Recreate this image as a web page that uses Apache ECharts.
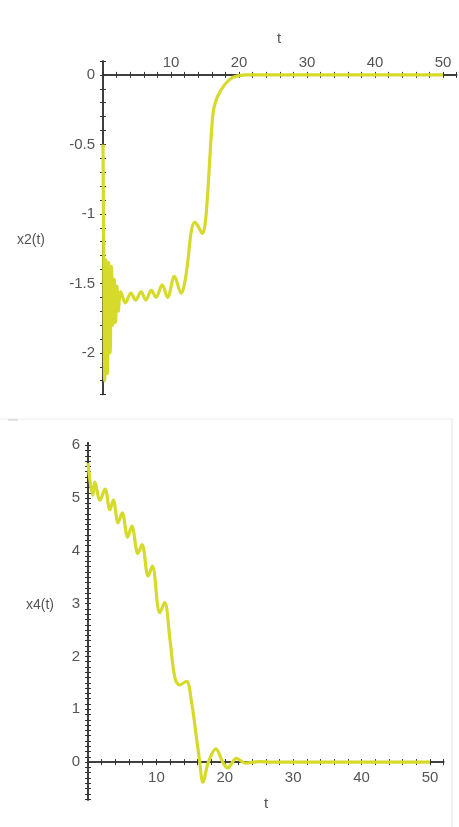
<!DOCTYPE html>
<html>
<head>
<meta charset="utf-8">
<script src="https://cdn.jsdelivr.net/npm/echarts@6/dist/echarts.min.js"></script>
<style>
html,body{margin:0;padding:0;background:#fff;}
#c{width:459px;height:827px;}
</style>
</head>
<body>
<div id="c"></div>
<script>
// ---- data ----
var t2 = [0,0.1,0.25,0.45,0.65,0.85,1.05,1.25,1.45,1.65,1.85,2.05,2.25,2.6,3.3,4.1,4.8,5.6,6.3,7.1,7.8,8.7,9.5,10.5,11.5,12.0,12.5,13.0,13.5,14.0,14.6,15.0,15.4,15.7,16.0,16.3,16.9,17.9,19.0,20.0,21.0,30,40,50];
var x2 = [-0.5,-1.2,-2.2,-1.33,-2.15,-1.35,-2.0,-1.38,-1.8,-1.47,-1.78,-1.52,-1.7,-1.56,-1.64,-1.57,-1.62,-1.56,-1.62,-1.55,-1.6,-1.51,-1.6,-1.45,-1.57,-1.5,-1.33,-1.12,-1.06,-1.09,-1.14,-1.08,-0.85,-0.61,-0.38,-0.24,-0.15,-0.07,-0.02,-0.005,0,0,0,0];
var t4 = [0,0.7,1.0,1.75,2.5,3.2,3.7,4.4,5.0,5.8,6.4,7.3,7.9,8.8,9.4,10.5,11.2,12.0,12.7,13.4,14.4,15.1,15.9,16.3,16.8,17.6,18.7,19.7,20.4,21.7,23,25,27,30,40,50];
var x4 = [5.66,5.05,5.3,4.96,5.17,4.78,4.96,4.53,4.72,4.26,4.47,3.95,4.12,3.52,3.71,2.83,3.02,2.3,1.6,1.46,1.53,1.17,0.42,0.04,-0.38,0,0.25,0,-0.11,0.07,-0.02,0.01,0,0,0,0];
var xLabels = [10,20,30,40,50];
var y2Labels = [0,-0.5,-1,-1.5,-2];
var y4Labels = [0,1,2,3,4,5,6];

function range(a,b,s){var r=[];for(var v=a;v<=b+1e-9;v+=s){r.push(Math.round(v*1000)/1000);}return r;}
var xTicks = range(0,52,2);
var y2Ticks = range(-2.3,0.1,0.1);
var y4Ticks = range(-0.7,6,0.1);

function pairs(a,b){return a.map(function(v,i){return [v,b[i]];});}

var FONT = 'Liberation Sans, Arial, sans-serif';
var axLine = {color:'#333',width:1.5};
var LINE = '#d6da2a';

function xAx(grid,pos,offset,margin,dup){
  return {type:'value',gridIndex:grid,position:pos,offset:offset,min:0,max:52,
    axisLine:{show:true,onZero:false,lineStyle:axLine},
    axisTick:{show:true,inside:dup,length:3,customValues:xTicks,lineStyle:{color:'#333',width:1}},
    axisLabel:{show:!dup,margin:margin,customValues:xLabels,fontSize:15,color:'#555',fontFamily:FONT},
    splitLine:{show:false}};
}
function yAx(grid,min,max,ticks,labels,dup){
  return {type:'value',gridIndex:grid,position:'left',offset:0,min:min,max:max,
    axisLine:{show:true,onZero:false,lineStyle:axLine},
    axisTick:{show:true,inside:dup,length:3,customValues:ticks,lineStyle:{color:'#333',width:1}},
    axisLabel:{show:!dup,margin:8,customValues:labels,fontSize:15,color:'#555',fontFamily:FONT},
    splitLine:{show:false}};
}

var chart = echarts.init(document.getElementById('c'));
chart.setOption({
  backgroundColor:'#fff',
  animation:false,
  grid:[
    {left:103,top:61,width:353.6,height:333.6,outerBoundsMode:'none',containLabel:false},
    {left:88,top:442.6,width:355.7,height:357.5,outerBoundsMode:'none',containLabel:false}
  ],
  xAxis:[xAx(0,'top',-13.9,5,false),xAx(0,'top',-13.9,5,true),xAx(1,'bottom',-38,8,false),xAx(1,'bottom',-38,8,true)],
  yAxis:[yAx(0,-2.3,0.1,y2Ticks,y2Labels,false),yAx(0,-2.3,0.1,y2Ticks,y2Labels,true),
         yAx(1,-0.72,6.05,y4Ticks,y4Labels,false),yAx(1,-0.72,6.05,y4Ticks,y4Labels,true)],
  series:[
    {type:'line',xAxisIndex:0,yAxisIndex:0,data:pairs(t2,x2),smooth:0.35,showSymbol:false,lineStyle:{color:LINE,width:3.2},z:1},
    {type:'line',xAxisIndex:2,yAxisIndex:2,data:pairs(t4,x4),smooth:0.35,showSymbol:false,lineStyle:{color:LINE,width:3.2},z:1}
  ],
  graphic:[
    {type:'text',x:279,y:39,style:{text:'t',font:'15px '+FONT,fill:'#555',align:'center',verticalAlign:'middle'}},
    {type:'text',x:31,y:240,style:{text:'x2(t)',font:'14px '+FONT,fill:'#555',align:'center',verticalAlign:'middle'}},
    {type:'text',x:40,y:605,style:{text:'x4(t)',font:'14px '+FONT,fill:'#555',align:'center',verticalAlign:'middle'}},
    {type:'text',x:266,y:804,style:{text:'t',font:'15px '+FONT,fill:'#555',align:'center',verticalAlign:'middle'}},
    {type:'line',shape:{x1:0,y1:419,x2:452,y2:419},style:{stroke:'#ececec',lineWidth:1}},
    {type:'line',shape:{x1:452,y1:419,x2:452,y2:827},style:{stroke:'#e4e4e4',lineWidth:1}},
    {type:'line',shape:{x1:8,y1:420,x2:18,y2:420},style:{stroke:'#c8c8c8',lineWidth:1}}
  ]
});
</script>
</body>
</html>
